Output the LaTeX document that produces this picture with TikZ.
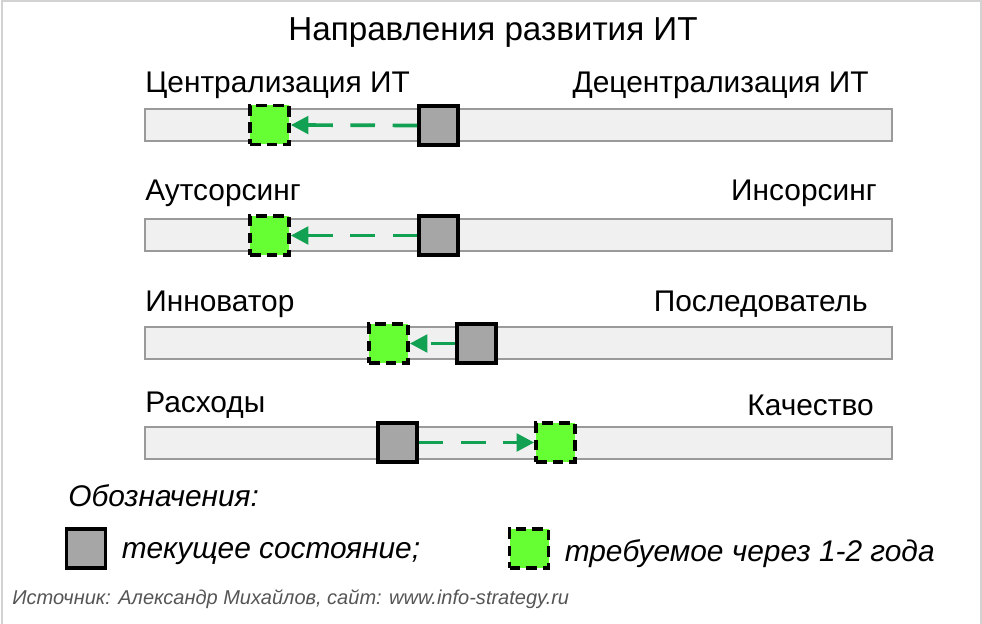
\documentclass[tikz,border=0pt]{standalone}
\usepackage{fontspec}
\setmainfont{Liberation Sans}
\usetikzlibrary{arrows.meta,positioning}
\definecolor{barfill}{HTML}{F0F0F0}
\definecolor{bardraw}{HTML}{9A9A9A}
\definecolor{nowfill}{HTML}{A6A6A6}
\definecolor{goalfill}{HTML}{66FF33}
\definecolor{movecol}{HTML}{12A152}
\definecolor{srccol}{HTML}{555555}

\begin{document}
\begin{tikzpicture}[x=0.02cm,y=-0.02cm,
  bar/.style={draw=bardraw,fill=barfill,line width=1.1pt,minimum width=14.94cm,minimum height=0.64cm,inner sep=0pt},
  now/.style={draw=black,fill=nowfill,line width=2.1pt,minimum size=0.78cm,inner sep=0pt},
  goal/.style={draw=black,fill=goalfill,line width=2.1pt,dash pattern=on 6pt off 3.5pt,minimum size=0.78cm,inner sep=0pt},
  move/.style={draw=movecol,line width=2.1pt,dash pattern=on 14pt off 10pt,-{Triangle[length=10pt,width=10pt]}},
  lbl/.style={font=\fontsize{17}{20}\selectfont,inner sep=0pt},
  lgd/.style={font=\fontsize{17}{20}\selectfont\itshape,inner sep=0pt,anchor=west}]
\useasboundingbox (0,0) rectangle (982,624);
\draw[gray!35,line width=0.8pt] (2,624)--(2,1)--(981,1)--(981,624);

\node[font=\fontsize{18.9}{22}\selectfont] (title) at (493,33) {Направления развития ИТ};

% scales
\node[bar] (bar1) at (518.5,125) {};
\node[bar] (bar2) at (518.5,235) {};
\node[bar] (bar3) at (518.5,343) {};
\node[bar] (bar4) at (518.5,443) {};

\node[lbl,anchor=west] (l1) at (145,85) {Централизация ИТ};
\node[lbl,anchor=east] (r1) at (869,85) {Децентрализация ИТ};
\node[lbl,anchor=west] (l2) at (145,193) {Аутсорсинг};
\node[lbl,anchor=east] (r2) at (877,193) {Инсорсинг};
\node[lbl,anchor=west] (l3) at (145,304) {Инноватор};
\node[lbl,anchor=east] (r3) at (868,304) {Последователь};
\node[lbl,anchor=west] (l4) at (145,405) {Расходы};
\node[lbl,anchor=east] (r4) at (874,405) {Качество};

% current and required positions
\node[now] (n1) at (438.5,125.5) {};
\node[goal] (g1) at (269.5,125) {};
\node[now] (n2) at (438.5,235.5) {};
\node[goal] (g2) at (269.5,235.5) {};
\node[now] (n3) at (476.5,343.5) {};
\node[goal] (g3) at (388.5,343.5) {};
\node[now] (n4) at (397.5,442.5) {};
\node[goal] (g4) at (555.5,442.5) {};

\draw[move] (n1.west)--(g1.east);
\draw[move] (n2.west)--(g2.east);
\draw[move] (n3.west)--(g3.east);
\draw[move] (n4.east)--(g4.west);

% legend
\node[lgd] (lgtitle) at (68,496) {Обозначения:};
\node[now] (lgnow) at (86,548.5) {};
\node[lgd,right=8pt of lgnow,yshift=-3pt] (lgnowtxt) {текущее состояние;};
\node[goal] (lggoal) at (529,548.5) {};
\node[lgd,right=8pt of lggoal,yshift=-3pt] (lggoaltxt) {требуемое через 1-2 года};

\node[font=\fontsize{11.4}{13}\selectfont\itshape,text=srccol,anchor=west,inner sep=0pt] (src) at (12,599) {Источник: Александр Михайлов, сайт: www.info-strategy.ru};
\end{tikzpicture}
\end{document}
